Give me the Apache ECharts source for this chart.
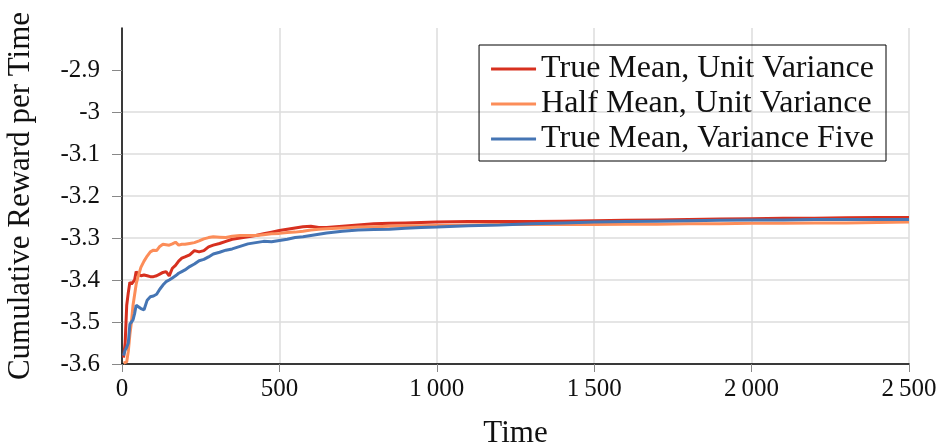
<!DOCTYPE html>
<html>
<head>
<meta charset="utf-8">
<script src="https://cdn.jsdelivr.net/npm/echarts@6/dist/echarts.min.js"></script>
<style>
  html, body { margin: 0; padding: 0; background: #fff; }
  #chart { width: 940px; height: 446px; }
</style>
</head>
<body>
<div id="chart"></div>
<script>
// time steps shared by all three runs
const times = [5, 10, 15, 20, 25, 30, 35, 40, 45, 50, 60, 70, 80, 90, 100, 110, 120, 130, 140, 150,
  160, 170, 180, 190, 200, 215, 230, 245, 260, 275, 290, 310, 330, 350, 375, 400, 425, 450, 475, 500,
  525, 550, 575, 600, 625, 650, 700, 750, 800, 850, 900, 950, 1000, 1100, 1200, 1300, 1400, 1500,
  1600, 1700, 1800, 1900, 2000, 2100, 2200, 2300, 2400, 2500];

const trueMeanUnit = [-3.585, -3.55, -3.46, -3.43, -3.405, -3.41, -3.405, -3.40, -3.38, -3.385,
  -3.39, -3.388, -3.39, -3.392, -3.392, -3.39, -3.386, -3.382, -3.38, -3.39,
  -3.372, -3.365, -3.355, -3.348, -3.345, -3.34, -3.33, -3.333, -3.33, -3.321,
  -3.317, -3.313, -3.308, -3.303, -3.3, -3.297, -3.294, -3.29, -3.286, -3.282,
  -3.279, -3.276, -3.273, -3.272, -3.275, -3.275, -3.272, -3.269, -3.266, -3.265,
  -3.264, -3.263, -3.262, -3.261, -3.261, -3.261, -3.26, -3.259, -3.258, -3.257,
  -3.256, -3.255, -3.254, -3.253, -3.253, -3.252, -3.251, -3.251];

const halfMeanUnit = [-3.598, -3.597, -3.595, -3.57, -3.53, -3.50, -3.46, -3.435, -3.41, -3.395,
  -3.37, -3.355, -3.343, -3.333, -3.329, -3.33, -3.32, -3.315, -3.316, -3.317,
  -3.314, -3.31, -3.317, -3.315, -3.315, -3.313, -3.311, -3.307, -3.302, -3.299,
  -3.297, -3.298, -3.299, -3.296, -3.294, -3.294, -3.294, -3.292, -3.29, -3.289,
  -3.287, -3.286, -3.284, -3.281, -3.279, -3.278, -3.276, -3.274, -3.273, -3.272,
  -3.271, -3.271, -3.27, -3.269, -3.268, -3.268, -3.268, -3.268, -3.267, -3.267,
  -3.266, -3.266, -3.265, -3.265, -3.264, -3.264, -3.263, -3.262];

const trueMeanFive = [-3.58, -3.567, -3.56, -3.55, -3.505, -3.50, -3.495, -3.48, -3.46, -3.463,
  -3.468, -3.471, -3.448, -3.44, -3.438, -3.434, -3.422, -3.412, -3.404, -3.40,
  -3.395, -3.39, -3.384, -3.38, -3.376, -3.368, -3.362, -3.354, -3.351, -3.345,
  -3.338, -3.334, -3.329, -3.326, -3.32, -3.314, -3.311, -3.308, -3.309, -3.306,
  -3.303, -3.299, -3.297, -3.294, -3.291, -3.288, -3.284, -3.281, -3.28, -3.279,
  -3.277, -3.275, -3.274, -3.271, -3.269, -3.266, -3.264, -3.262, -3.261, -3.26,
  -3.259, -3.258, -3.257, -3.257, -3.256, -3.256, -3.256, -3.256];

const seriesNames = ["True Mean, Unit Variance", "Half Mean, Unit Variance", "True Mean, Variance Five"];
const xTickLabels = [0, 500, 1000, 1500, 2000, 2500];
const yTickLabels = [-3.6, -3.5, -3.4, -3.3, -3.2, -3.1, -3, -2.9];

const colors = ["#d7301f", "#fc8d59", "#4575b4"];
const font = "'Liberation Serif', 'DejaVu Serif', serif";

function pairs(vals) {
  return times.map((t, i) => [t, vals[i]]);
}

let myChart = echarts.init(document.getElementById("chart"));
let option = {
  backgroundColor: "#fff",
  animation: false,
  color: colors,
  grid: { left: 122, right: 31, top: 28, bottom: 82, outerBoundsMode: "none" },
  legend: {
    orient: "vertical",
    right: 54,
    top: 45,
    padding: [8, 12, 6, 12],
    itemGap: 3,
    itemWidth: 45,
    itemHeight: 3,
    icon: "rect",
    borderColor: "#000",
    borderWidth: 1,
    textStyle: { fontFamily: font, fontSize: 32, color: "#111" },
    data: seriesNames,
  },
  xAxis: {
    type: "value",
    min: 0,
    max: 2500,
    interval: 250,
    name: "Time",
    nameLocation: "middle",
    nameGap: 54,
    nameTextStyle: { fontFamily: font, fontSize: 31, color: "#111" },
    axisLine: { lineStyle: { color: "#000", width: 1.5 } },
    axisTick: { customValues: xTickLabels, length: 8, lineStyle: { color: "#888" } },
    axisLabel: {
      customValues: xTickLabels,
      margin: 13,
      fontFamily: font,
      fontSize: 25,
      color: "#111",
      formatter(v) {
        return v >= 1000 ? String(v).replace(/(\d)(\d{3})$/, "$1\u2009$2") : String(v);
      },
    },
    splitLine: { show: true, lineStyle: { color: "#dcdcdc", width: 1.5 } },
  },
  yAxis: {
    type: "value",
    min: -3.6,
    max: -2.8,
    interval: 0.1,
    name: "Cumulative Reward per Time",
    nameLocation: "middle",
    nameGap: 86,
    nameTextStyle: { fontFamily: font, fontSize: 31, color: "#111" },
    axisLine: { show: true, lineStyle: { color: "#000", width: 1.5 } },
    axisTick: { show: true, customValues: yTickLabels, length: 10, lineStyle: { color: "#888" } },
    axisLabel: {
      customValues: yTickLabels,
      margin: 22,
      fontFamily: font,
      fontSize: 25,
      color: "#111",
      formatter(v) {
        return String(parseFloat(Number(v).toFixed(1)));
      },
    },
    splitLine: { show: true, showMaxLine: false, lineStyle: { color: "#dcdcdc", width: 1.5 } },
  },
  series: [
    { name: seriesNames[0], type: "line", data: pairs(trueMeanUnit), showSymbol: false, lineStyle: { width: 3 } },
    { name: seriesNames[1], type: "line", data: pairs(halfMeanUnit), showSymbol: false, lineStyle: { width: 3 } },
    { name: seriesNames[2], type: "line", data: pairs(trueMeanFive), showSymbol: false, lineStyle: { width: 3 } },
  ],
};
myChart.setOption(option);
</script>
</body>
</html>
